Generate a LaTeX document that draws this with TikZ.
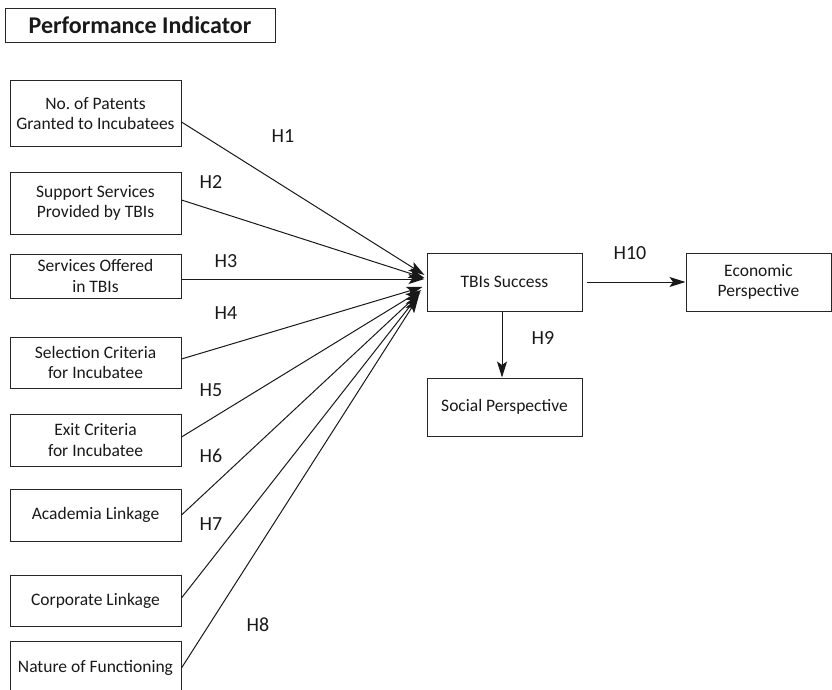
\documentclass[tikz,border=0pt]{standalone}
\usepackage{fontspec}
\setmainfont{Carlito}
\usetikzlibrary{arrows.meta}
\begin{document}
\begin{tikzpicture}[x=1pt,y=-1pt,
 box/.style={draw=black!85, line width=1pt, rectangle, inner sep=0pt, align=center,
   font=\fontsize{17.5}{20.5}\selectfont, text=black!90},
 lbl/.style={font=\fontsize{20}{22}\selectfont, inner sep=0pt, text=black!90},
 conn/.style={draw=black!90, line width=1pt, -{Stealth[length=16pt,width=10pt,inset=3.5pt]}}]
\useasboundingbox (0,0) rectangle (832,690);
\clip (0,0) rectangle (832,690);
\node[box, minimum width=270pt, minimum height=34pt, font=\bfseries\fontsize{24}{28}\selectfont] (title) at (140,25.5) {Performance Indicator};
\node[box, minimum width=171pt, minimum height=65pt] (b1) at (95.5,113.5) {No.\ of Patents\\Granted to Incubatees};
\node[box, minimum width=171pt, minimum height=62pt] (b2) at (95.5,203) {Support Services\\Provided by TBIs};
\node[box, minimum width=171pt, minimum height=44pt] (b3) at (95.5,276) {Services Offered\\in TBIs};
\node[box, minimum width=171pt, minimum height=51pt] (b4) at (95.5,362.5) {Selection Criteria\\for Incubatee};
\node[box, minimum width=171pt, minimum height=52pt] (b5) at (95.5,440) {Exit Criteria\\for Incubatee};
\node[box, minimum width=171pt, minimum height=52pt] (b6) at (95.5,515) {Academia Linkage};
\node[box, minimum width=171pt, minimum height=51pt] (b7) at (95.5,600.5) {Corporate Linkage};
\node[box, minimum width=171pt, minimum height=54pt] (b8) at (95.5,668) {Nature of Functioning};
\node[box, minimum width=155pt, minimum height=58pt] (tbi) at (504.5,282) {TBIs Success};
\node[box, minimum width=145pt, minimum height=58pt] (eco) at (758.5,282) {Economic\\Perspective};
\node[box, minimum width=155pt, minimum height=58pt] (soc) at (504.5,407) {Social Perspective};
% connectors
\draw[conn] ([yshift=-8.5pt]b1.east) -- ([xshift=-2pt,yshift=7pt]tbi.west);
\draw[conn] ([yshift=3pt]b2.east) -- ([xshift=-2pt,yshift=4pt]tbi.west);
\draw[conn] ([yshift=-3pt]b3.east) -- ([xshift=-2pt,yshift=3pt]tbi.west);
\draw[conn] ([yshift=3.5pt]b4.east) -- ([xshift=-4pt,yshift=-5pt]tbi.west);
\draw[conn] ([yshift=3pt]b5.east) -- ([xshift=-5pt,yshift=-8pt]tbi.west);
\draw[conn] (b6.east) -- ([xshift=-6pt,yshift=-10pt]tbi.west);
\draw[conn] ([yshift=2.5pt]b7.east) -- ([xshift=-7pt,yshift=-12pt]tbi.west);
\draw[conn] (b8.east) -- ([xshift=-8pt,yshift=-15pt]tbi.west);
\draw[conn] ([xshift=4pt]tbi.east) -- (eco.west);
\draw[conn] (tbi.south) ++(-2.5,0) coordinate (s0) (s0) -- (s0 |- soc.north);
% labels
\node[lbl] (l1) at (283,136) {H1};
\node[lbl] (l2) at (211,182) {H2};
\node[lbl] (l3) at (226,261) {H3};
\node[lbl] (l4) at (226,313) {H4};
\node[lbl] (l5) at (211,390) {H5};
\node[lbl] (l6) at (211,456) {H6};
\node[lbl] (l7) at (211,524) {H7};
\node[lbl] (l8) at (258,625) {H8};
\node[lbl] (l9) at (543,338) {H9};
\node[lbl] (l10) at (630,253) {H10};
\end{tikzpicture}
\end{document}
